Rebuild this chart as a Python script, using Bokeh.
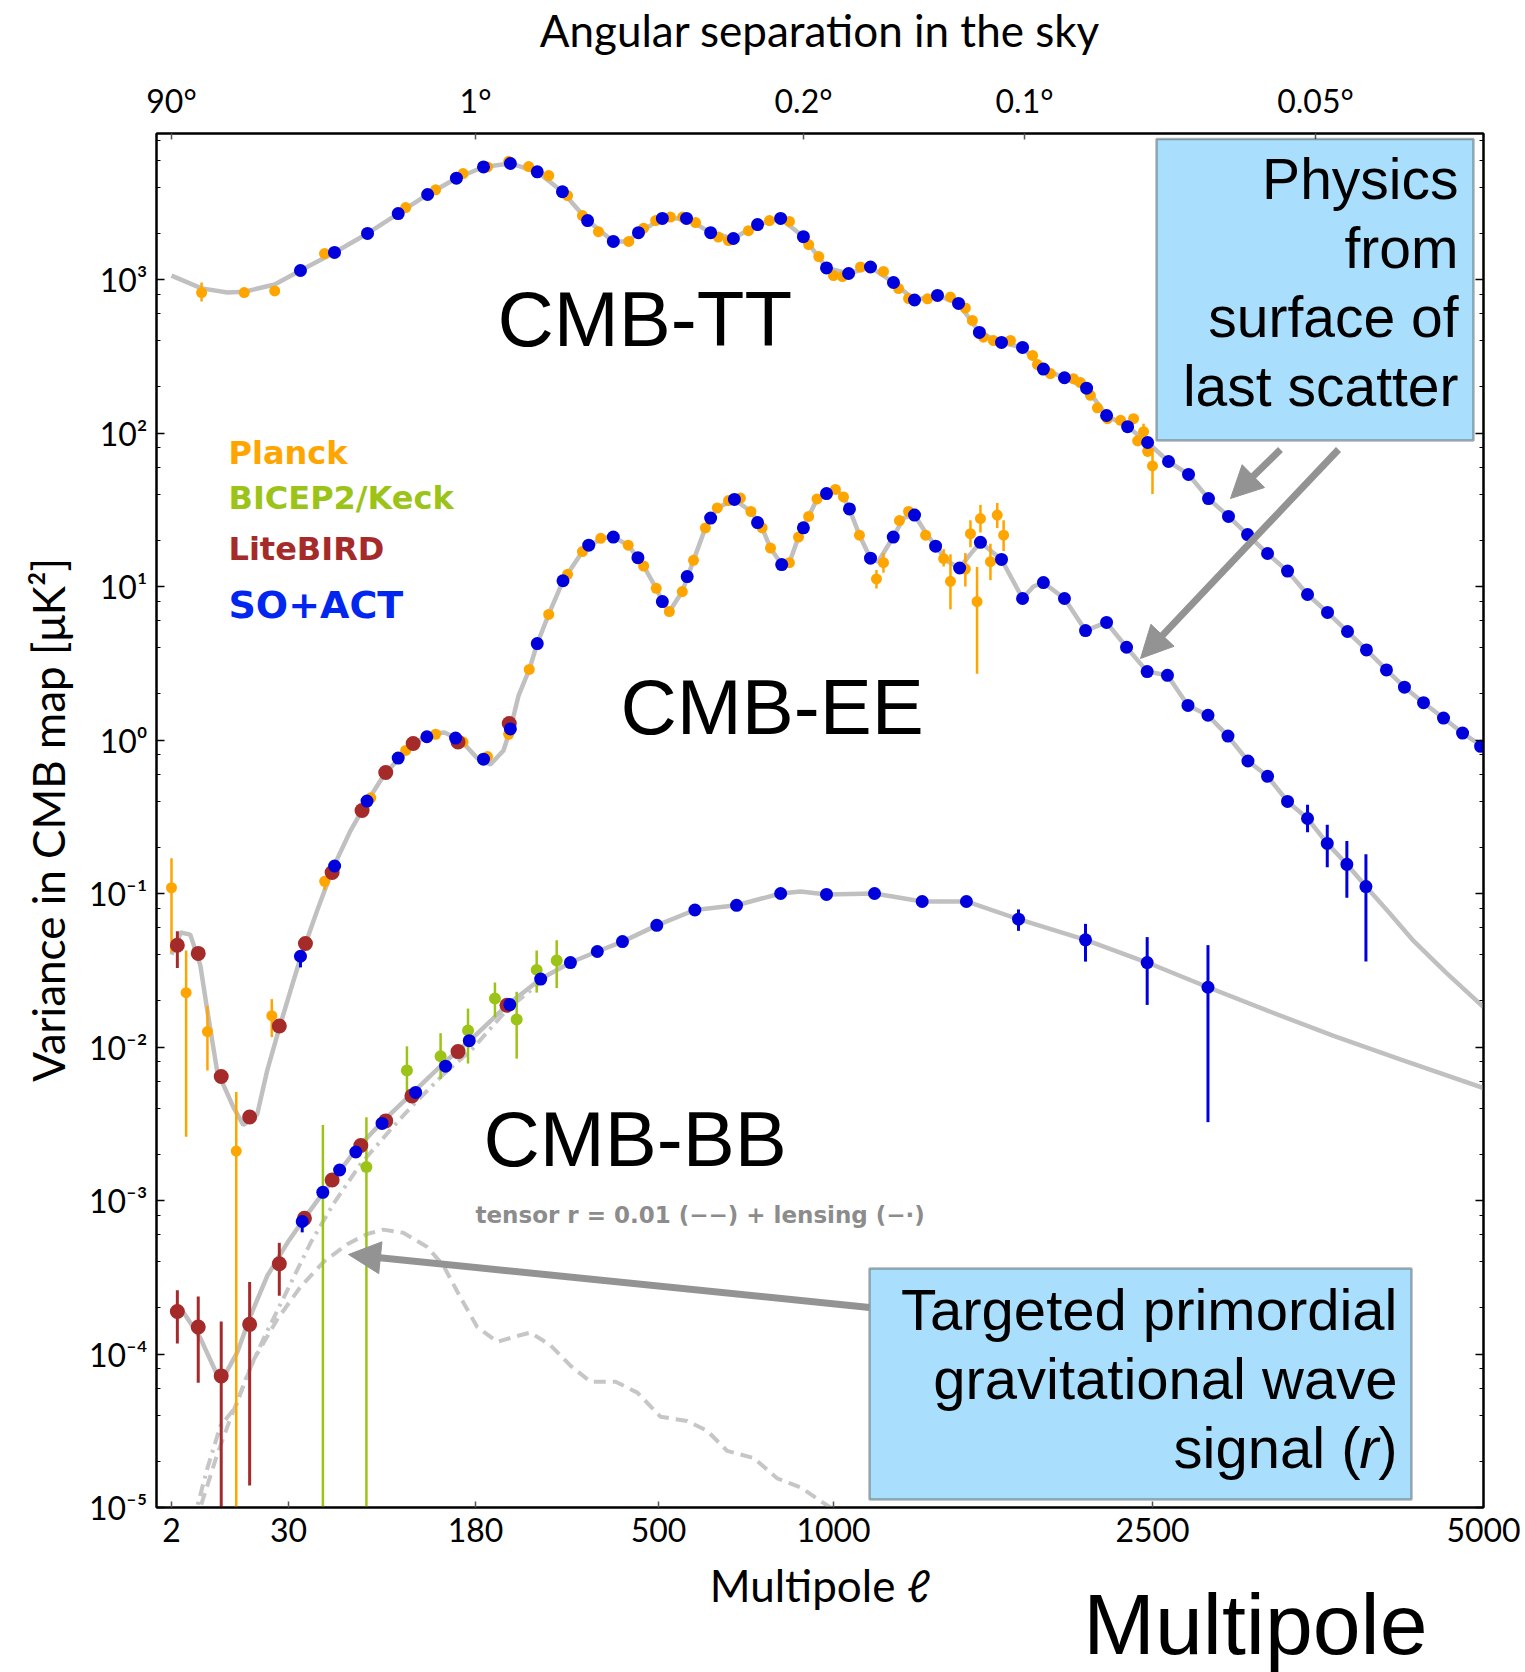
import numpy as np
from bokeh.plotting import figure
from bokeh.models import (Range1d, LinearAxis, LogAxis, FixedTicker, CustomJSTickFormatter,
                          Label, BoxAnnotation, Arrow, NormalHead, Title)
from bokeh.embed import file_html
from bokeh.resources import INLINE

# ---------------- axis definition ----------------
ELL_TICKS = [2, 30, 180, 500, 1000, 2500, 5000]
ELL_TICK_POS = [15, 132, 319, 502, 677, 996, 1327]      # place of each multipole tick along the x axis
ANG_LABELS = ["90°", "1°", "0.2°", "0.1°", "0.05°"]
ANG_ELL = [2, 180, 914, 1898, 3731]
Y_TICKS = [1e-5, 1e-4, 1e-3, 1e-2, 1e-1, 1e0, 1e1, 1e2, 1e3]

# ---------------- data: (multipole, value) ----------------
TT_THEORY = [(2, 1060), (9.2, 875), (15.4, 822), (19.4, 832), (26.7, 928), (39.6, 1145), (66.9, 1500),
             (93.4, 1995), (118, 2690), (141.6, 3580), (164.7, 4570), (194, 5410), (241, 5700), (288, 5030),
             (332, 3730), (376, 2420), (421, 1770), (446, 1770), (465, 2020), (511, 2500), (580, 2500),
             (649, 2020), (714, 1850), (783, 2280), (849, 2500), (914, 1900), (980, 1190), (1071, 1094),
             (1174, 1206), (1282, 956), (1381, 735), (1489, 787), (1588, 698), (1686, 452), (1790, 389),
             (1889, 361), (1987, 261), (2086, 229), (2190, 196), (2284, 130), (2383, 110), (2477, 86.7),
             (2621, 65.2), (2772, 53.7), (2923, 37.4), (3074, 28.6), (3218, 21.8), (3369, 16.4), (3520, 12.6),
             (3671, 8.87), (3822, 6.78), (3973, 5.09), (4116, 3.86), (4267, 2.86), (4403, 2.21), (4547, 1.75),
             (4698, 1.39), (4842, 1.11), (5000, 0.90)]

TT_PLANCK = [(9.2, 822), (19.4, 822), (26.7, 843), (58.9, 1476), (124, 2943), (148, 3840), (170, 4900),
             (201, 5410), (238, 5890), (273, 5440), (308, 4760), (341, 3520), (367, 2610), (395, 2050),
             (448, 1770), (474, 2160), (495, 2420), (534, 2550), (569, 2550), (606, 2350), (671, 1890),
             (700, 1795), (757, 2080), (817, 2420), (874, 2390), (929, 1690), (958, 1410), (1000, 1060),
             (1042, 1045), (1127, 1206), (1235, 1128), (1306, 873), (1353, 752), (1442, 748), (1550, 768),
             (1620, 652), (1653, 541), (1705, 421), (1752, 400), (1832, 401), (1936, 320), (1959, 279),
             (2020, 244), (2128, 226), (2161, 213), (2208, 176), (2241, 146), (2288, 124), (2350, 121),
             (2411, 124), (2430, 89), (2458, 102), (2477, 76), (2500, 61)]
TT_PLANCK_ERR = [(9.2, 720, 956), (2411, 116, 133), (2430, 82, 97), (2458, 90, 115), (2477, 70, 83),
                 (2500, 40, 80)]

TT_SOACT = [(39.6, 1145), (66.9, 1500), (93.4, 1995), (118, 2690), (141.6, 3580), (164.7, 4570), (194, 5410),
            (241, 5700), (288, 5030), (332, 3730), (376, 2420), (421, 1770), (465, 2020), (511, 2500),
            (580, 2500), (649, 2020), (714, 1850), (783, 2280), (849, 2500), (914, 1900), (980, 1190),
            (1071, 1094), (1174, 1206), (1282, 956), (1381, 735), (1489, 787), (1588, 698), (1686, 452),
            (1790, 389), (1889, 361), (1987, 261), (2086, 229), (2190, 196), (2284, 130), (2383, 110),
            (2477, 86.7), (2621, 65.2), (2772, 53.7), (2923, 37.4), (3074, 28.6), (3218, 21.8), (3369, 16.4),
            (3520, 12.6), (3671, 8.87), (3822, 6.78), (3973, 5.09), (4116, 3.86), (4267, 2.86), (4403, 2.21),
            (4547, 1.75), (4698, 1.39), (4842, 1.11), (4978, 0.91)]

EE_THEORY = [(2, 0.040), (4.2, 0.0557), (6.5, 0.054), (8.9, 0.034), (10.5, 0.0178), (12.9, 0.00703),
             (16.8, 0.00406), (19.2, 0.0031), (22.5, 0.00363), (24.9, 0.00703), (28.1, 0.0142), (31.6, 0.0233),
             (39.6, 0.038), (53, 0.0774), (66, 0.1486), (79.8, 0.257), (93.1, 0.398), (106, 0.581), (120, 0.784),
             (141, 1.086), (155, 1.12), (168, 1.0), (183, 0.762), (206, 0.692), (229, 0.855), (241, 1.18),
             (255, 1.93), (274, 2.88), (288, 4.25), (308, 6.58), (333, 10.9), (367, 16.9), (399, 20.6),
             (421, 21.0), (447, 18.6), (474, 13.6), (496, 9.73), (511, 7.98), (531, 6.87), (568, 9.27),
             (600, 14.8), (634, 24.1), (668, 32.5), (717, 36.9), (764, 30.8), (796, 24.1), (820, 17.8),
             (852, 13.9), (874, 14.3), (900, 21.0), (929, 28.6), (953, 37.2), (980, 40.3), (1009, 42.9),
             (1047, 38.3), (1075, 32.0), (1122, 21.6), (1174, 15.3), (1210, 14.5), (1281, 21.0), (1330, 28.0),
             (1381, 29.2), (1433, 22.5), (1480, 18.3), (1540, 14.5), (1593, 13.2), (1640, 16.0), (1691, 19.4),
             (1790, 15.0), (1889, 8.35), (1940, 10.0), (1987, 10.6), (2086, 8.35), (2185, 5.16), (2284, 5.83),
             (2378, 4.02), (2475, 2.79), (2613, 2.64), (2768, 1.68), (2919, 1.45), (3070, 1.06), (3221, 0.73),
             (3369, 0.58), (3520, 0.398), (3671, 0.308), (3820, 0.212), (3968, 0.155), (4112, 0.111),
             (4288, 0.075), (4462, 0.0501), (4717, 0.0305), (5000, 0.0182)]

EE_PLANCK = [(2, 0.109), (5.5, 0.0226), (10.6, 0.0126), (17.5, 0.0021), (26, 0.016), (59, 0.12), (96, 0.42),
             (124, 0.855), (148, 1.09), (170, 0.97), (201, 0.78), (238, 1.09), (274, 2.88), (308, 6.58),
             (341, 12.0), (367, 16.9), (399, 20.6), (447, 18.6), (474, 13.6), (496, 9.73), (531, 6.87),
             (568, 9.27), (600, 14.8), (634, 24.1), (668, 32.5), (700, 36.3), (734, 37.7), (764, 30.8),
             (796, 24.1), (820, 17.8), (874, 14.3), (900, 21.0), (929, 28.6), (953, 37.2), (1009, 42.9),
             (1047, 38.3), (1122, 21.6), (1202, 11.2), (1235, 14.3), (1310, 26.9), (1353, 30.8), (1433, 21.6),
             (1518, 15.2), (1550, 10.8), (1620, 13.0), (1644, 22.1), (1675, 7.98), (1691, 27.7), (1738, 14.5),
             (1770, 29.2), (1800, 21.6)]
EE_PLANCK_ERR = [(2, 0.0413, 0.170), (5.5, 0.0026, 0.0426), (10.6, 0.00703, 0.0185), (17.5, 1e-7, 0.0051),
                 (26, 0.0116, 0.0205), (59, 0.105, 0.13), (1202, 9.7, 12.8), (1235, 12.3, 16.5),
                 (1518, 13.5, 17.5), (1550, 7.1, 16.2), (1620, 10.0, 16.5), (1644, 18.0, 27.0),
                 (1675, 2.7, 13.4), (1691, 22.5, 34.0), (1738, 11.0, 19.0), (1770, 24.0, 35.0),
                 (1800, 17.0, 27.0)]

EE_LITEBIRD = [(3.4, 0.046), (8.4, 0.0407), (13.9, 0.00643), (20.7, 0.0035), (27.8, 0.0137), (43.6, 0.0472),
               (65, 0.137), (89, 0.347), (108, 0.614), (130, 0.948), (166, 0.97), (239, 1.28)]
EE_LITEBIRD_ERR = [(3.4, 0.0327, 0.0568)]

EE_SOACT = [(39.6, 0.039), (67, 0.151), (93, 0.40), (118, 0.762), (141, 1.05), (164, 1.03), (194, 0.75),
            (241, 1.18), (288, 4.25), (333, 10.9), (378, 18.6), (421, 21.0), (464, 15.4), (511, 7.98),
            (582, 11.6), (649, 27.9), (717, 36.9), (783, 26.1), (852, 13.9), (914, 24.1), (980, 40.3),
            (1075, 32.0), (1174, 15.3), (1281, 21.0), (1381, 29.2), (1480, 18.3), (1593, 13.2), (1691, 19.4),
            (1790, 15.0), (1889, 8.35), (1987, 10.6), (2086, 8.35), (2185, 5.16), (2284, 5.83), (2378, 4.02),
            (2475, 2.79), (2613, 2.64), (2768, 1.68), (2919, 1.45), (3070, 1.06), (3221, 0.73), (3369, 0.58),
            (3520, 0.398), (3671, 0.308), (3820, 0.212), (3968, 0.155), (4112, 0.111)]
EE_SOACT_ERR = [(39.6, 0.033, 0.041), (3520, 0.37, 0.43), (3671, 0.251, 0.379), (3820, 0.148, 0.28),
                (3968, 0.0937, 0.22), (4112, 0.036, 0.18)]

BB_THEORY = [(2, 1.92e-4), (4.9, 1.86e-4), (8.9, 1.27e-4), (12.9, 7.35e-5), (14.5, 7.1e-5), (17.7, 1.02e-4),
             (20.9, 1.77e-4), (24.9, 3.22e-4), (29.7, 5.28e-4), (42, 7.5e-4), (58, 1.13e-3), (71.6, 1.58e-3),
             (85, 2.19e-3), (106, 3.3e-3), (130, 5.06e-3), (154, 7.8e-3), (178, 0.0115), (235, 0.0187),
             (294, 0.0277), (346, 0.0355), (393, 0.0419), (437, 0.0486), (497, 0.062), (604, 0.0781),
             (723, 0.0838), (849, 0.1), (906, 0.103), (980, 0.0986), (1193, 0.1), (1417, 0.0887),
             (1625, 0.0887), (1870, 0.068), (2185, 0.0499), (2475, 0.0355), (2919, 0.0245), (3364, 0.0173),
             (3868, 0.0118), (4371, 0.0083), (5000, 0.0054)]

BB_TENSOR = [(7.5, 8e-6), (8.9, 1.0e-5), (12.9, 2.2e-5), (16.1, 3.8e-5), (21.7, 9.2e-5), (27.3, 1.68e-4),
             (39.6, 2.74e-4), (58.4, 4.0e-4), (77.1, 5.19e-4), (93, 6.05e-4), (106, 6.46e-4), (122, 6.16e-4),
             (141, 5.0e-4), (154, 3.8e-4), (168, 2.33e-4), (183, 1.5e-4), (218, 1.2e-4), (253, 1.31e-4),
             (276, 1.38e-4), (311, 1.14e-4), (346, 8.4e-5), (381, 6.6e-5), (425, 6.6e-5), (463, 5.6e-5),
             (506, 3.9e-5), (582, 3.66e-5), (639, 3.16e-5), (696, 2.34e-5), (772, 2.1e-5), (839, 1.55e-5),
             (906, 1.35e-5), (991, 1.0e-5), (1060, 7e-6)]

BB_LENSING = [(7.5, 8e-6), (8.1, 1e-5), (10.5, 1.77e-5), (13.7, 3.4e-5), (17.3, 4.5e-5), (20.1, 7.3e-5),
              (24.1, 1.27e-4), (29.7, 2.6e-4), (47.7, 5.3e-4), (66.4, 9.6e-4), (87.6, 1.72e-3), (114, 3.03e-3),
              (130, 4.2e-3), (154, 6.6e-3), (178, 9.8e-3), (235, 0.0175), (294, 0.0265)]

BB_LITEBIRD = [(3.4, 1.89e-4), (8.4, 1.5e-4), (13.9, 7.2e-5), (20.7, 1.56e-4), (27.8, 3.87e-4), (42.8, 7.65e-4),
               (65, 1.36e-3), (88, 2.28e-3), (108, 3.3e-3), (129, 4.79e-3), (166, 9.33e-3), (235, 0.0187)]
BB_LITEBIRD_ERR = [(3.4, 1.17e-4, 2.6e-4), (8.4, 6.5e-5, 2.37e-4), (13.9, 1e-7, 1.63e-4),
                   (20.7, 1.39e-5, 2.94e-4), (27.8, 2.4e-4, 5.3e-4)]

BB_BICEP = [(57.6, 1e-7), (92.5, 1.65e-3), (125, 7.03e-3), (152, 8.7e-3), (174, 0.0128), (214, 0.0207),
            (252, 0.0151), (287, 0.0318), (322, 0.0366)]
BB_BICEP_ERR = [(57.6, 1e-7, 3.1e-3), (92.5, 1e-7, 3.48e-3), (125, 4.6e-3, 0.0101), (152, 6.2e-3, 0.0123),
                (174, 7.8e-3, 0.0178), (214, 0.0156, 0.0263), (252, 0.0084, 0.0229), (287, 0.0226, 0.0425),
                (322, 0.0242, 0.0496)]

BB_SOACT = [(41, 7.3e-4), (57.5, 1.13e-3), (71, 1.58e-3), (84, 2.07e-3), (105, 3.18e-3), (132, 5.06e-3),
            (156, 7.5e-3), (175, 0.011), (240, 0.0189), (294, 0.0277), (346, 0.0355), (393, 0.0419),
            (437, 0.0486), (497, 0.062), (604, 0.0781), (723, 0.0838), (849, 0.1), (980, 0.0986),
            (1193, 0.1), (1417, 0.0887), (1625, 0.0887), (1870, 0.068), (2185, 0.0499), (2475, 0.0355),
            (2919, 0.0245)]
BB_SOACT_ERR = [(41, 6.2e-4, 7.6e-4), (294, 0.0258, 0.0297), (346, 0.033, 0.038), (393, 0.039, 0.045),
                (437, 0.0455, 0.052), (1417, 0.082, 0.096), (1625, 0.082, 0.096), (1870, 0.0571, 0.0787),
                (2185, 0.036, 0.0634), (2475, 0.0188, 0.052), (2919, 0.00324, 0.0461)]

# ---------------- colours / fonts ----------------
GREY_LINE = "#C0C0C0"
PLANCK = "#FFA500"
BICEP = "#9CC418"
LITEBIRD = "#A52A2A"
SOACT = "#0000DD"
BOX_FILL = "#A9DFFC"
ARROW_C = "#939393"
AX_FONT = "Lato"
BIG_FONT = "Liberation Sans"


def xpos(ell):
    return np.interp(np.asarray(ell, dtype=float), ELL_TICKS, ELL_TICK_POS)


def pairs(data):
    a = np.array(data, dtype=float)
    return xpos(a[:, 0]), a[:, 1]


def triples(data):
    a = np.array(data, dtype=float)
    return xpos(a[:, 0]), a[:, 1], a[:, 2]


# frame geometry (pixels) used only to place annotations
FRAME_L, FRAME_T, FRAME_W, FRAME_H = 156, 129, 1327, 1374
Y3_PX, DEC_PX = 275.0, 153.5


def ax(px):
    return float(px - FRAME_L)


def ay(py):
    return float(10 ** (3 - (py - Y3_PX) / DEC_PX))


p = figure(frame_width=FRAME_W, frame_height=FRAME_H,
           min_border_left=156, min_border_right=42, min_border_top=129, min_border_bottom=169,
           x_range=Range1d(0, FRAME_W), y_range=Range1d(ay(FRAME_T + FRAME_H), ay(FRAME_T)),
           y_axis_type="log", output_backend="svg", toolbar_location=None)
p.xgrid.visible = False
p.ygrid.visible = False
p.outline_line_color = "black"
p.outline_line_width = 2
p.background_fill_color = "white"
p.border_fill_color = "white"

# ---- axes ----
xb = p.xaxis[0]
xb.ticker = FixedTicker(ticks=ELL_TICK_POS)
xb.major_label_overrides = {pos: str(l) for pos, l in zip(ELL_TICK_POS, ELL_TICKS)}
xb.axis_label = "Multipole ℓ"

ang_pos = [int(round(float(xpos(l)))) for l in ANG_ELL]
xt = LinearAxis(ticker=FixedTicker(ticks=ang_pos),
                major_label_overrides={pp: lab for pp, lab in zip(ang_pos, ANG_LABELS)},
                axis_label="Angular separation in the sky")
p.add_layout(xt, "above")

minor_y = [k * 10.0 ** e for e in range(-6, 4) for k in (2, 4, 6, 8)]
yfmt = CustomJSTickFormatter(code="""
const e = Math.round(Math.log10(tick));
const sup = {"-": "\u207b", "0": "\u2070", "1": "\u00b9", "2": "\u00b2", "3": "\u00b3", "4": "\u2074",
             "5": "\u2075", "6": "\u2076", "7": "\u2077", "8": "\u2078", "9": "\u2079"};
return "10" + String(e).split("").map((c) => sup[c]).join("");
""")
yl = p.yaxis[0]
yl.ticker = FixedTicker(ticks=Y_TICKS, minor_ticks=minor_y)
yl.formatter = yfmt
yl.axis_label = "Variance in CMB map [μK²]"

yr = LogAxis(ticker=FixedTicker(ticks=Y_TICKS, minor_ticks=minor_y),
             formatter=CustomJSTickFormatter(code="return ' ';"),
             major_label_text_font_size="4px", major_label_standoff=0)
p.add_layout(yr, "right")

for a in [xb, xt, yl, yr]:
    a.axis_line_color = "black"
    a.axis_line_width = 2
    a.major_tick_out = 0
    a.minor_tick_out = 0
    a.major_label_text_font = AX_FONT
    a.major_label_text_color = "black"
    a.axis_label_text_font = AX_FONT
    a.axis_label_text_font_style = "normal"
    a.axis_label_text_color = "black"
    a.axis_label_text_font_size = "44px"
for a in [xb, xt]:
    a.major_tick_in = 6
    a.major_tick_line_color = "#555555"
    a.major_tick_line_width = 1.5
    a.major_label_text_font_size = "32px"
for a in [yl, yr]:
    a.major_tick_in = 8
    a.minor_tick_in = 4
    a.major_tick_line_color = "black"
    a.minor_tick_line_color = "black"
    a.major_tick_line_width = 1.5
    a.minor_tick_line_width = 1.2
yl.major_label_text_font_size = "32px"
xb.major_label_standoff = 10
xb.axis_label_standoff = 14
xt.major_label_standoff = 14
xt.axis_label_standoff = 22
yl.major_label_standoff = 9
yl.axis_label_standoff = 12

# big "Multipole" word under the bottom-right of the plot
p.add_layout(Title(text="Multipole", align="right", offset=56, standoff=-80, text_font_size="86px",
                   text_font=BIG_FONT, text_font_style="normal", text_color="black"), "below")

# ---- theory curves ----
for data in (TT_THEORY, EE_THEORY, BB_THEORY):
    x, y = pairs(data)
    p.line(x, y, line_color=GREY_LINE, line_width=4.5)
x, y = pairs(BB_TENSOR)
p.line(x, y, line_color="#C6C6C6", line_width=4, line_dash="12 7")
x, y = pairs(BB_LENSING)
p.line(x, y, line_color="#C6C6C6", line_width=4, line_dash="12 6 3 6")


def errbars(data, color, width=2.5):
    x, lo, hi = triples(data)
    p.segment(x0=x, y0=lo, x1=x, y1=hi, line_color=color, line_width=width)


def dots(data, color, size):
    x, y = pairs(data)
    p.scatter(x, y, size=size, fill_color=color, line_color=None)


# Planck
errbars(TT_PLANCK_ERR, PLANCK)
errbars(EE_PLANCK_ERR, PLANCK)
dots(TT_PLANCK, PLANCK, 11)
dots(EE_PLANCK, PLANCK, 11)
# BICEP2/Keck
errbars(BB_BICEP_ERR, BICEP)
dots(BB_BICEP, BICEP, 12)
# LiteBIRD
errbars(EE_LITEBIRD_ERR, LITEBIRD, 3)
errbars(BB_LITEBIRD_ERR, LITEBIRD, 3)
dots(EE_LITEBIRD, LITEBIRD, 15)
dots(BB_LITEBIRD, LITEBIRD, 15)
# SO+ACT
errbars(EE_SOACT_ERR, SOACT, 3)
errbars(BB_SOACT_ERR, SOACT, 3)
dots(TT_SOACT, SOACT, 13)
dots(EE_SOACT, SOACT, 13)
dots(BB_SOACT, SOACT, 13)

# ---- annotations ----


def label(text, px, base, size, align="left", font=BIG_FONT, color="black", style="normal"):
    # base: wanted baseline (pixels from top); Bokeh draws the text a bit lower, compensate
    py = base - (6 + 0.37 * size)
    p.add_layout(Label(x=ax(px), y=ay(py), text=text, text_font_size=f"{size}px", text_align=align,
                       text_baseline="alphabetic", text_font=font, text_color=color,
                       text_font_style=style))


def arrow(x0, y0, x1, y1, size=32):
    dxp, dyp = float(x1 - x0), float(y1 - y0)
    n = (dxp ** 2 + dyp ** 2) ** 0.5
    ux, uy = dxp / n, dyp / n
    bx, by = x1 - ux * size * 0.6, y1 - uy * size * 0.6
    p.add_layout(Arrow(end=NormalHead(size=1, fill_alpha=0, line_alpha=0),
                       x_start=ax(x0), y_start=ay(y0), x_end=ax(bx), y_end=ay(by),
                       line_color=ARROW_C, line_width=7))
    hx, hy = x1 - ux * 4, y1 - uy * 4
    p.add_layout(Arrow(end=NormalHead(size=size, fill_color=ARROW_C, line_color=ARROW_C, line_width=1),
                       x_start=ax(hx), y_start=ay(hy), x_end=ax(x1), y_end=ay(y1),
                       line_color=ARROW_C, line_alpha=0, line_width=1))


label("CMB-TT", 497, 349, 78)
label("CMB-EE", 620, 737, 78)
label("CMB-BB", 483, 1169, 78)
label("tensor r = 0.01 (−−) + lensing (−·)", 475, 1225, 23, font="DejaVu Sans", color="#8C8C8C",
      style="bold")

label("Planck", 228, 466, 32, font="DejaVu Sans", color=PLANCK, style="bold")
label("BICEP2/Keck", 228, 511, 32, font="DejaVu Sans", color=BICEP, style="bold")
label("LiteBIRD", 228, 562, 32, font="DejaVu Sans", color=LITEBIRD, style="bold")
label("SO+ACT", 228, 621, 38, font="DejaVu Sans", color="#0026F0", style="bold")

# boxes
p.add_layout(BoxAnnotation(left=ax(1156), right=ax(1473), top=ay(134.5), bottom=ay(436),
                           fill_color=BOX_FILL, fill_alpha=1, line_color="black", line_width=2.5))
for txt, base in zip(["Physics", "from", "surface of", "last scatter"], [202, 271, 340, 409]):
    label(txt, 1458, base, 57, align="right")

p.add_layout(BoxAnnotation(left=ax(869), right=ax(1411), top=ay(1264), bottom=ay(1495),
                           fill_color=BOX_FILL, fill_alpha=1, line_color="black", line_width=2.5))
label("Targeted primordial", 1397, 1332, 58, align="right")
label("gravitational wave", 1397, 1401, 58, align="right")
label(")", 1397, 1470, 58, align="right")
label("r", 1378, 1470, 58, align="right", style="italic")
label("signal (", 1360, 1470, 58, align="right")

arrow(1280, 445, 1230, 494)
arrow(1338, 445, 1140, 654)
arrow(869, 1303, 348, 1250)

with open("out.html", "w", encoding="utf-8") as f:
    f.write(file_html(p, INLINE))
